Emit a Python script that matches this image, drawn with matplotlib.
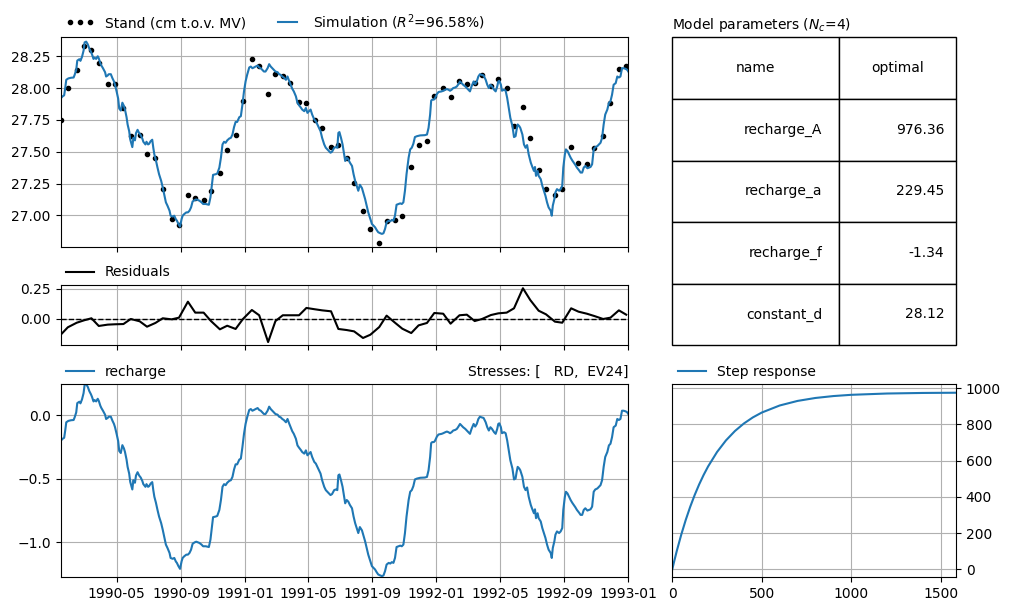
import matplotlib
matplotlib.use("Agg")
import matplotlib.pyplot as plt
import matplotlib.dates as mdates
import pandas as pd

# observed heads, measured on the 14th and 28th of each month
obs_dates = pd.to_datetime([f"{y}-{m:02d}-{d}" for y in (1990, 1991, 1992)
                            for m in range(1, 13) for d in (14, 28)])
obs_vals = [27.75, 28.00, 28.14, 28.33, 28.30, 28.195, 28.035, 28.03, 27.84, 27.62,
            27.63, 27.48, 27.45, 27.21, 26.97, 26.92, 27.157, 27.14, 27.123, 27.19,
            27.33, 27.51, 27.63, 27.90, 28.23, 28.177, 27.957, 28.114, 28.098, 28.04,
            27.888, 27.886, 27.75, 27.684, 27.535, 27.553, 27.45, 27.257, 27.037, 26.895,
            26.785, 26.953, 26.96, 26.998, 27.383, 27.556, 27.587, 27.94, 28.004, 27.933,
            28.055, 28.03, 28.04, 28.10, 28.02, 28.07, 28.004, 27.705, 27.855, 27.605,
            27.36, 27.21, 27.157, 27.21, 27.535, 27.414, 27.406, 27.527, 27.62, 27.886,
            28.153, 28.177]

# residuals (obs - sim) at the observation dates
res_vals = [-0.133, -0.069, -0.031, -0.011, 0.006, -0.058, -0.047, -0.044, -0.042, 0.0,
            -0.019, -0.064, -0.033, 0.006, -0.003, 0.011, 0.144, 0.053, 0.053, -0.017,
            -0.086, -0.056, -0.083, 0.0, 0.075, 0.031, -0.192, -0.017, 0.031, 0.031,
            0.031, 0.092, 0.081, 0.072, 0.064, -0.083, -0.092, -0.103, -0.158, -0.131,
            -0.067, 0.028, -0.031, -0.081, -0.117, -0.053, -0.033, 0.05, 0.044, -0.039,
            0.031, 0.036, -0.017, 0.0, 0.033, 0.047, 0.053, 0.089, 0.256, 0.158,
            0.069, 0.039, -0.022, -0.031, 0.089, 0.061, 0.044, 0.025, 0.0, 0.011,
            0.072, 0.036]

# recharge contribution (days after 1990-01-14)
start = pd.Timestamp("1990-01-14")
end = pd.Timestamp("1993-01-01")
rech_day = [0, 4, 7, 9, 11, 15, 20, 25, 27, 30, 32, 36, 38, 41, 44, 46, 49, 52, 55, 58,
            60, 63, 65, 68, 71, 73, 76, 78, 81, 85, 87, 90, 92, 96, 99, 102, 104, 107, 110, 112,
            115, 118, 121, 123, 126, 128, 131, 133, 137, 139, 142, 144, 147, 150, 153, 156, 158, 162, 164, 167,
            169, 172, 175, 177, 179, 182, 185, 188, 192, 195, 198, 201, 204, 208, 210, 214, 217, 220, 222, 225,
            228, 231, 233, 236, 240, 243, 246, 249, 252, 256, 259, 262, 265, 269, 272, 277, 283, 286, 289, 291,
            296, 299, 303, 306, 309, 312, 315, 318, 322, 325, 328, 331, 334, 337, 341, 344, 347, 350, 353, 356,
            360, 363, 366, 369, 372, 376, 379, 382, 385, 388, 391, 395, 398, 401, 404, 407, 410, 414, 417, 420,
            423, 426, 430, 433, 436, 439, 442, 445, 449, 452, 455, 458, 461, 465, 468, 471, 474, 477, 480, 484,
            487, 490, 493, 496, 499, 503, 506, 509, 512, 515, 518, 522, 525, 528, 530, 532, 535, 538, 541, 543,
            546, 549, 552, 556, 559, 562, 565, 568, 571, 575, 578, 581, 584, 587, 591, 594, 597, 600, 603, 606,
            610, 613, 616, 619, 622, 626, 629, 632, 635, 638, 641, 645, 648, 651, 654, 657, 660, 664, 667, 670,
            673, 676, 680, 686, 695, 699, 702, 705, 707, 709, 712, 714, 718, 721, 727, 730, 734, 737, 740, 743,
            746, 749, 753, 756, 759, 762, 765, 768, 772, 775, 778, 781, 784, 788, 791, 794, 797, 800, 803, 807,
            811, 814, 817, 820, 823, 827, 830, 833, 835, 837, 840, 842, 846, 849, 852, 855, 858, 862, 865, 868,
            870, 872, 875, 877, 881, 884, 887, 890, 893, 897, 900, 903, 905, 907, 910, 912, 916, 919, 922, 925,
            928, 931, 935, 937, 939, 942, 944, 947, 951, 954, 957, 959, 962, 964, 967, 970, 973, 976, 979, 982,
            985, 989, 992, 995, 998, 1001, 1005, 1008, 1011, 1014, 1017, 1020, 1024, 1027, 1030, 1033, 1036, 1039, 1043, 1046,
            1049, 1052, 1055, 1059, 1062, 1065, 1068, 1071, 1074, 1078, 1081, 1083]
rech_val = [-0.203, -0.185, -0.177, -0.12, -0.055, -0.044, -0.039, -0.037, -0.016, 0.023,
            0.096, 0.107, 0.094, 0.125, 0.174, 0.239, 0.245, 0.224, 0.19, 0.166,
            0.146, 0.109, 0.12, 0.109, 0.13, 0.114, 0.075, 0.057, 0.036, 0.005,
            -0.029, -0.021, -0.011, -0.011, -0.042, -0.068, -0.094, -0.146, -0.203, -0.281,
            -0.297, -0.235, -0.261, -0.289, -0.349, -0.406, -0.459, -0.524, -0.584, -0.511,
            -0.531, -0.474, -0.448, -0.474, -0.49, -0.516, -0.542, -0.563, -0.542, -0.563,
            -0.558, -0.537, -0.526, -0.589, -0.641, -0.688, -0.745, -0.797, -0.849, -0.901,
            -0.959, -1.018, -1.044, -1.084, -1.123, -1.13, -1.123, -1.151, -1.162, -1.188,
            -1.209, -1.149, -1.123, -1.11, -1.097, -1.097, -1.084, -1.058, -1.011, -1.0,
            -0.995, -1.0, -1.005, -1.018, -1.031, -1.031, -1.037, -0.979, -0.875, -0.802,
            -0.797, -0.792, -0.745, -0.667, -0.563, -0.542, -0.55, -0.531, -0.516, -0.511,
            -0.485, -0.427, -0.386, -0.386, -0.349, -0.341, -0.25, -0.146, -0.068, -0.016,
            0.042, 0.049, 0.036, 0.042, 0.049, 0.057, 0.042, 0.036, 0.023, 0.01,
            0.01, 0.036, 0.068, 0.049, 0.036, 0.023, 0.01, 0.005, -0.011, -0.016,
            -0.029, -0.037, -0.055, -0.029, -0.063, -0.094, -0.125, -0.146, -0.185, -0.237,
            -0.255, -0.271, -0.289, -0.302, -0.276, -0.315, -0.302, -0.289, -0.328, -0.367,
            -0.38, -0.406, -0.433, -0.459, -0.511, -0.563, -0.589, -0.602, -0.615, -0.628,
            -0.62, -0.589, -0.584, -0.589, -0.472, -0.466, -0.511, -0.563, -0.641, -0.693,
            -0.667, -0.68, -0.706, -0.732, -0.797, -0.849, -0.888, -0.927, -0.88, -0.906,
            -0.948, -0.992, -1.044, -1.097, -1.149, -1.188, -1.201, -1.214, -1.235, -1.253,
            -1.261, -1.266, -1.261, -1.227, -1.175, -1.162, -1.167, -1.156, -1.162, -1.123,
            -1.037, -1.031, -1.026, -1.031, -1.018, -0.927, -0.797, -0.667, -0.602, -0.589,
            -0.558, -0.505, -0.498, -0.492, -0.49, -0.485, -0.433, -0.328, -0.219, -0.211,
            -0.211, -0.203, -0.167, -0.151, -0.146, -0.141, -0.133, -0.128, -0.133, -0.141,
            -0.133, -0.12, -0.115, -0.107, -0.089, -0.068, -0.081, -0.094, -0.107, -0.12,
            -0.133, -0.146, -0.107, -0.068, -0.089, -0.068, -0.029, -0.011, -0.016, -0.021,
            -0.055, -0.094, -0.12, -0.094, -0.107, -0.133, -0.146, -0.107, -0.068, -0.063,
            -0.094, -0.141, -0.133, -0.141, -0.198, -0.276, -0.354, -0.419, -0.505, -0.498,
            -0.446, -0.406, -0.419, -0.433, -0.485, -0.563, -0.589, -0.568, -0.641, -0.706,
            -0.74, -0.771, -0.74, -0.81, -0.771, -0.81, -0.836, -0.888, -0.927, -0.966,
            -1.018, -1.058, -1.084, -1.123, -1.044, -0.992, -0.94, -0.914, -0.927, -0.914,
            -0.888, -0.745, -0.641, -0.602, -0.615, -0.641, -0.667, -0.688, -0.706, -0.724,
            -0.745, -0.766, -0.784, -0.784, -0.745, -0.732, -0.75, -0.745, -0.74, -0.719,
            -0.602, -0.584, -0.576, -0.563, -0.55, -0.511, -0.406, -0.328, -0.289, -0.237,
            -0.224, -0.172, -0.094, -0.081, -0.029, -0.037, -0.029, 0.036, 0.036, 0.031,
            0.023, 0.01]

# model parameters
par_names = ["recharge_A", "recharge_a", "recharge_f", "constant_d"]
par_optimal = [976.36, 229.45, -1.34, 28.12]
r2 = 96.58

# step response of the recharge
step_t = [0, 10, 25, 50, 75, 100, 125, 150, 175, 200, 250, 300, 350, 400, 450,
          500, 600, 700, 800, 900, 1000, 1200, 1400, 1585]
step_val = [0.0, 41.6, 100.8, 191.1, 272.2, 344.9, 410.1, 468.6, 521.0, 568.0, 647.9, 712.2,
            763.9, 805.5, 839.0, 865.9, 904.9, 930.2, 946.5, 957.0, 963.9, 971.1, 974.2, 975.4]

rech_dates = start + pd.to_timedelta(rech_day, unit="D")
sim_vals = [v + par_optimal[3] for v in rech_val]

W, H = 1011, 611
fig = plt.figure(figsize=(W / 100, H / 100), dpi=100)


def box(x0, y0, x1, y1):
    # pixel box (from top left) to figure fraction
    return [x0 / W, 1 - y1 / H, (x1 - x0) / W, (y1 - y0) / H]


ax1 = fig.add_axes(box(60.5, 37.3, 628.3, 247))
ax2 = fig.add_axes(box(60.5, 285, 628.3, 345.3), sharex=ax1)
ax3 = fig.add_axes(box(60.5, 384.3, 628.3, 577), sharex=ax1)
axt = fig.add_axes(box(672.3, 37.3, 956, 345.3))
ax4 = fig.add_axes(box(672.3, 384.3, 956, 577))

# heads
ax1.plot(obs_dates, obs_vals, linestyle="", marker=".", color="k",
         label="Stand (cm t.o.v. MV)")
ax1.plot(rech_dates, sim_vals, color="C0", label=f"Simulation ($R^2$={r2:.2f}%)")
ax1.set_ylim(26.751, 28.399)
ax1.set_yticks([27.0, 27.25, 27.5, 27.75, 28.0, 28.25])
ax1.grid(True)
ax1.legend(loc=(0, 1), ncol=2, frameon=False, numpoints=3)
ax1.tick_params(labelbottom=False)

# residuals
ax2.axhline(0.0, color="k", linestyle="--", linewidth=1)
ax2.plot(obs_dates, res_vals, color="k", label="Residuals")
ax2.set_ylim(-0.219, 0.283)
ax2.set_yticks([0.0, 0.25])
ax2.set_yticklabels(["0.00", "0.25"])
ax2.grid(True)
ax2.legend(loc=(0, 1), frameon=False)
ax2.tick_params(labelbottom=False)

# contribution
ax3.plot(rech_dates, rech_val, color="C0", label="recharge")
ax3.set_ylim(-1.273, 0.244)
ax3.set_yticks([-1.0, -0.5, 0.0])
ax3.grid(True)
ax3.legend(loc=(0, 1), frameon=False)
ax3.set_title("Stresses: [   RD,  EV24]", loc="right", fontsize=10)
ax3.xaxis.set_major_locator(mdates.MonthLocator(bymonth=[1, 5, 9]))
ax3.xaxis.set_major_formatter(mdates.DateFormatter("%Y-%m"))
ax3.set_xlim(start, end)

# parameter table
axt.axis("off")
axt.set_title(f"Model parameters ($N_c$={len(par_names)})", loc="left", fontsize=10)
cells = [[n, f"{v:.2f}"] for n, v in zip(par_names, par_optimal)]
tab = axt.table(cellText=cells, colLabels=["name", "optimal"], bbox=(0, 0, 1, 1),
                colWidths=[0.588, 0.412])
tab.auto_set_font_size(False)
tab.set_fontsize(10)

# step response
ax4.plot(step_t, step_val, color="C0", label="Step response")
ax4.set_xlim(0, 1585)
ax4.set_ylim(-43, 1022)
ax4.yaxis.tick_right()
ax4.grid(True)
ax4.legend(loc=(0, 1), frameon=False)

plt.savefig("out.png", dpi=100)
